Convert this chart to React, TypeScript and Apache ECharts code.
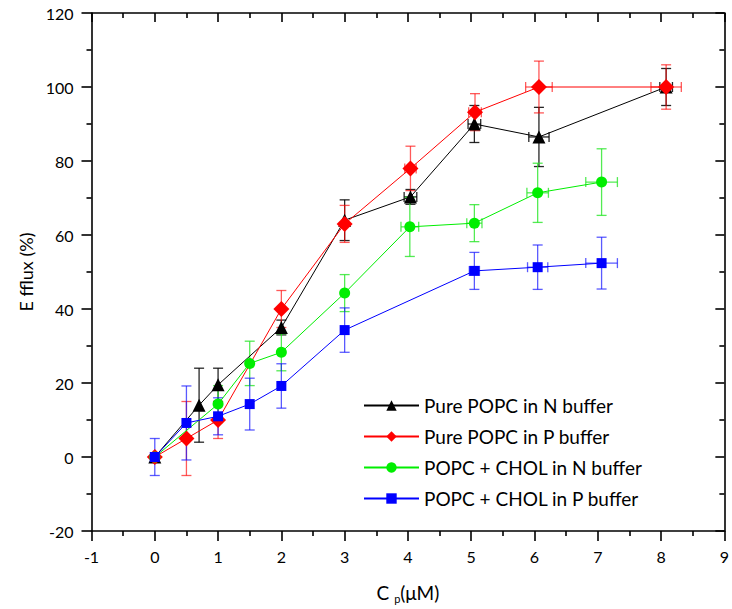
import React, { useEffect, useRef } from "react";
import * as echarts from "echarts";

// ---- Data ----
const seriesNames = [
  "Pure POPC in N buffer",
  "Pure POPC in P buffer",
  "POPC + CHOL in N buffer",
  "POPC + CHOL in P buffer",
];

const blackX = [0, 0.7, 1, 2, 3, 4.04, 5.05, 6.07, 8.08];
const blackY = [0, 14, 19.5, 35, 64, 70.3, 90, 86.5, 100];
const blackYErr = [0, 10, 4.5, 2, 5.5, 2, 5, 8, 5];
const blackXErr = [0, 0, 0, 0, 0, 0.1, 0.1, 0.16, 0.1];

const redX = [0, 0.5, 1, 2, 3, 4.04, 5.06, 6.07, 8.08];
const redY = [0, 5, 10, 40, 63, 78, 93.2, 100, 100];
const redYErr = [0, 10, 5, 5, 5, 6, 5, 7, 6];
const redXErr = [0, 0, 0, 0, 0, 0.09, 0.1, 0.21, 0.24];

const greenX = [0, 1, 1.5, 2, 3, 4.03, 5.05, 6.05, 7.06];
const greenY = [0, 14.3, 25.3, 28.3, 44.3, 62.2, 63.2, 71.4, 74.3];
const greenYErr = [0, 5, 6, 5, 5, 8, 5, 8, 9];
const greenXErr = [0, 0, 0, 0, 0, 0.14, 0.12, 0.17, 0.25];

const blueX = [0, 0.5, 1, 1.5, 2, 3, 5.05, 6.05, 7.06];
const blueY = [0, 9.2, 11, 14.3, 19.2, 34.3, 50.3, 51.3, 52.4];
const blueYErr = [5, 10, 5, 7, 6, 6, 5, 6, 7];
const blueXErr = [0, 0, 0, 0, 0, 0, 0.08, 0.16, 0.25];

const xMin = -1, xMax = 9, xInterval = 1;
const yMin = -20, yMax = 120, yInterval = 20;

const FONT = "Lato";

function pts(xs: number[], ys: number[]) {
  return xs.map((x, i) => [x, ys[i]]);
}
function errPts(xs: number[], ys: number[], xe: number[], ye: number[]) {
  return xs.map((x, i) => [x, ys[i], xe[i], ye[i]]);
}

function errSeries(id: string, data: number[][], color: string, z: number) {
  return {
    type: "custom",
    id,
    silent: true,
    clip: false,
    z,
    encode: { x: 0, y: 1 },
    data,
    renderItem: (_p: any, api: any) => {
      const x = api.value(0), y = api.value(1), xe = api.value(2), ye = api.value(3);
      const ch: any[] = [];
      const cap = 5;
      const st = { stroke: color, lineWidth: 1.3 };
      if (ye > 0) {
        const t = api.coord([x, y + ye]);
        const b = api.coord([x, y - ye]);
        ch.push({ type: "line", shape: { x1: t[0], y1: t[1], x2: b[0], y2: b[1] }, style: st });
        ch.push({ type: "line", shape: { x1: t[0] - cap, y1: t[1], x2: t[0] + cap, y2: t[1] }, style: st });
        ch.push({ type: "line", shape: { x1: b[0] - cap, y1: b[1], x2: b[0] + cap, y2: b[1] }, style: st });
      }
      if (xe > 0) {
        const l = api.coord([x - xe, y]);
        const r = api.coord([x + xe, y]);
        ch.push({ type: "line", shape: { x1: l[0], y1: l[1], x2: r[0], y2: r[1] }, style: st });
        ch.push({ type: "line", shape: { x1: l[0], y1: l[1] - cap, x2: l[0], y2: l[1] + cap }, style: st });
        ch.push({ type: "line", shape: { x1: r[0], y1: r[1] - cap, x2: r[0], y2: r[1] + cap }, style: st });
      }
      return { type: "group", children: ch };
    },
  };
}

function lineSeries(name: string, data: number[][], color: string, symbol: string, size: number, z: number) {
  return {
    type: "line",
    name,
    data,
    z,
    symbol,
    symbolSize: size,
    showAllSymbol: true,
    lineStyle: { color, width: 1 },
    itemStyle: { color },
  };
}

export default function App() {
  const ref = useRef<HTMLDivElement>(null);
  useEffect(() => {
    if (!ref.current) return;
    const chart = echarts.init(ref.current, undefined, { renderer: "svg" });
    const axisLine = { show: true, onZero: false, lineStyle: { color: "#000", width: 1.6 } };
    chart.setOption({
      animation: false,
      backgroundColor: "#fff",
      grid: { left: 91.5, right: 4, top: 13, bottom: 78, containLabel: false },
      legend: {
        data: seriesNames,
        orient: "vertical",
        left: 358,
        top: 391,
        itemWidth: 55,
        itemHeight: 13,
        itemGap: 12,
        textStyle: { fontFamily: FONT, fontSize: 19, color: "#000" },
      },
      xAxis: [
        {
          type: "value",
          min: xMin,
          max: xMax,
          interval: xInterval,
          position: "bottom",
          axisLine,
          axisTick: { show: true, inside: false, length: 10, lineStyle: { color: "#000", width: 1.6 } },
          minorTick: { show: true, splitNumber: 2, length: 5, lineStyle: { color: "#000", width: 1.6 } },
          splitLine: { show: false },
          axisLabel: { fontFamily: FONT, fontSize: 16, color: "#000", margin: 17 },
          name: "C {sub|p}(μM)",
          nameLocation: "middle",
          nameGap: 50,
          nameTextStyle: {
            fontFamily: FONT,
            fontSize: 19,
            color: "#000",
            rich: { sub: { fontFamily: FONT, fontSize: 11, color: "#000", verticalAlign: "bottom", padding: [12, 0, 0, 0] } },
          },
        },
        {
          type: "value",
          min: xMin,
          max: xMax,
          interval: xInterval,
          position: "top",
          axisLine,
          axisTick: { show: true, inside: true, length: 9, lineStyle: { color: "#000", width: 1.6 } },
          minorTick: { show: true, splitNumber: 2, length: 5, lineStyle: { color: "#000", width: 1.6 } },
          splitLine: { show: false },
          axisLabel: { show: false },
        },
      ],
      yAxis: [
        {
          type: "value",
          min: yMin,
          max: yMax,
          interval: yInterval,
          position: "left",
          axisLine,
          axisTick: { show: true, inside: false, length: 10, lineStyle: { color: "#000", width: 1.6 } },
          minorTick: { show: true, splitNumber: 2, length: 5, lineStyle: { color: "#000", width: 1.6 } },
          splitLine: { show: false },
          axisLabel: { fontFamily: FONT, fontSize: 16, color: "#000", margin: 18 },
          name: "E fflux (%)",
          nameLocation: "middle",
          nameGap: 54,
          nameTextStyle: { fontFamily: FONT, fontSize: 18, color: "#000" },
        },
        {
          type: "value",
          min: yMin,
          max: yMax,
          interval: yInterval,
          position: "right",
          axisLine,
          axisTick: { show: true, inside: true, length: 9, lineStyle: { color: "#000", width: 1.6 } },
          minorTick: { show: true, splitNumber: 2, length: 5, lineStyle: { color: "#000", width: 1.6 } },
          splitLine: { show: false },
          axisLabel: { show: false },
        },
      ],
      series: [
        errSeries("errBlack", errPts(blackX, blackY, blackXErr, blackYErr), "rgba(0,0,0,0.85)", 2),
        errSeries("errRed", errPts(redX, redY, redXErr, redYErr), "rgba(255,0,0,0.65)", 2),
        errSeries("errGreen", errPts(greenX, greenY, greenXErr, greenYErr), "rgba(40,230,40,0.8)", 2),
        errSeries("errBlue", errPts(blueX, blueY, blueXErr, blueYErr), "rgba(20,20,255,0.7)", 2),
        lineSeries(seriesNames[0], pts(blackX, blackY), "#000000", "triangle", 13, 3),
        lineSeries(seriesNames[1], pts(redX, redY), "#ff0000", "diamond", 16, 4),
        lineSeries(seriesNames[2], pts(greenX, greenY), "#00ee00", "circle", 11, 5),
        lineSeries(seriesNames[3], pts(blueX, blueY), "#0000ff", "rect", 10, 6),
      ],
    });
    return () => chart.dispose();
  }, []);
  return (
    <div
      ref={ref}
      style={{ position: "fixed", left: 0, top: 0, width: 732, height: 609, background: "#fff" }}
    />
  );
}
